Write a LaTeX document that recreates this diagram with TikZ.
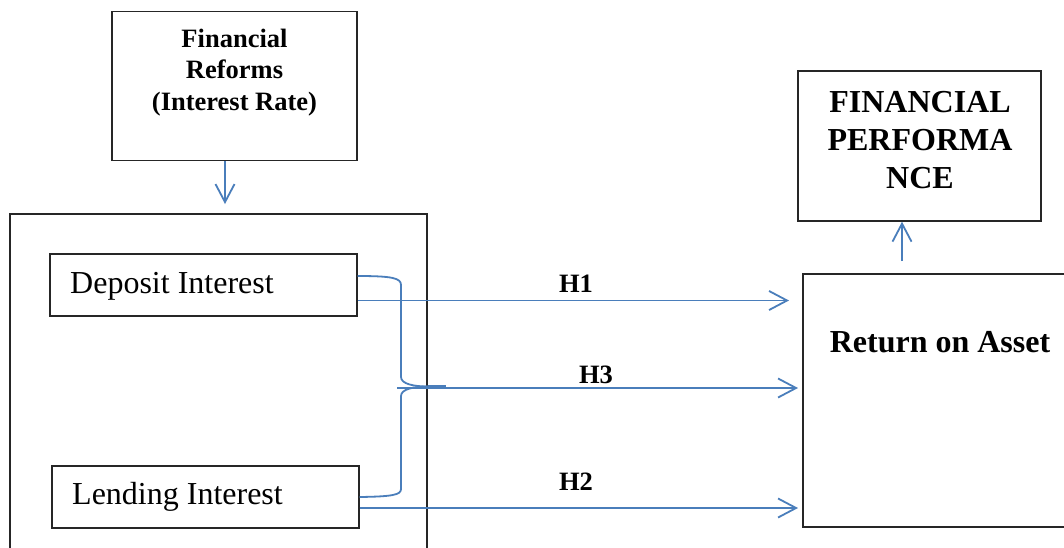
\documentclass[tikz,border=0pt]{standalone}
\usepackage{fontspec}
\setmainfont{Liberation Serif}
\usetikzlibrary{arrows.meta}
\definecolor{blueline}{HTML}{4A7EBB}
\definecolor{boxline}{HTML}{262626}
\begin{document}
\begin{tikzpicture}[x=1pt,y=-1pt,
  box/.style={draw=boxline, line width=1.4pt, inner sep=0pt, rectangle},
  conn/.style={draw=blueline, line width=1.8pt},
  arr/.style={conn, -{Straight Barb[length=18pt,width=19pt]}},
  lbl/.style={inner sep=0pt, anchor=base},
  hfont/.style={font=\fontsize{26.5}{31.5}\selectfont\bfseries},
  bigfont/.style={font=\fontsize{32}{38}\selectfont\bfseries},
  plain/.style={font=\fontsize{32}{38}\selectfont}
]
\useasboundingbox (0,0) rectangle (1064,547);
\clip (0,0) rectangle (1064,547);
\fill[white] (0,0) rectangle (1064,547);

% boxes
\node[box, minimum width=245pt, minimum height=149pt] (fr) at (234.5,86) {};
\node[box, minimum width=417pt, minimum height=346pt] (big) at (218.5,387) {};
\node[box, minimum width=307pt, minimum height=62pt] (dep) at (203.5,285) {};
\node[box, minimum width=307pt, minimum height=62pt] (len) at (205.5,497) {};
\node[box, minimum width=272pt, minimum height=253pt] (roa) at (939,400.5) {};
\node[box, minimum width=243pt, minimum height=150pt] (fp) at (919.5,146) {};

% texts
\node[lbl, hfont] (frt) at (234.5,47) {\begin{tabular}[t]{@{}c@{}}Financial\\Reforms\\(Interest Rate)\end{tabular}};
\node[lbl, bigfont] (fpt) at (920,112) {\begin{tabular}[t]{@{}c@{}}FINANCIAL\\PERFORMA\\NCE\end{tabular}};
\node[lbl, bigfont] (roat) at (940,352) {Return on Asset};
\node[inner sep=0pt, anchor=base west, plain] (dept) at (70,293) {Deposit Interest};
\node[inner sep=0pt, anchor=base west, plain] (lent) at (72,504) {Lending Interest};

% coordinates
\coordinate (inTop) at (225,204);
\coordinate (h1end) at (789,300.5);
\coordinate (h3start) at (397,388);
\coordinate (h3end) at (798,388);
\coordinate (h2end) at (798,508);
\coordinate (upStart) at (902,261);
\coordinate (braceTip) at (428,386.5);

% connectors
\draw[arr] (fr.south -| inTop) -- (inTop);
\draw[arr] (dep.east |- h1end) -- (h1end);
\draw[arr] (h3start) -- (h3end);
\draw[arr] (len.east |- h2end) -- (h2end);
\draw[arr] (upStart) -- (fp.south -| upStart);

% brace
\draw[conn] (dep.east |- 0,276) .. controls (392,276) and (401,278) .. (401,285)
  -- (401,377) .. controls (401,384) and (414,386.5) .. (braceTip);
\draw[conn] (len.east |- 0,497) .. controls (392,496.5) and (401,495) .. (401,489)
  -- (401,396) .. controls (401,389) and (414,386.5) .. (braceTip);
\draw[conn, line width=2.4pt] (braceTip) -- ++(18,0);

% labels
\node[lbl, hfont] (h1) at (576,292) {H1};
\node[lbl, hfont] (h3) at (596,383) {H3};
\node[lbl, hfont] (h2) at (576,490) {H2};
\end{tikzpicture}
\end{document}
